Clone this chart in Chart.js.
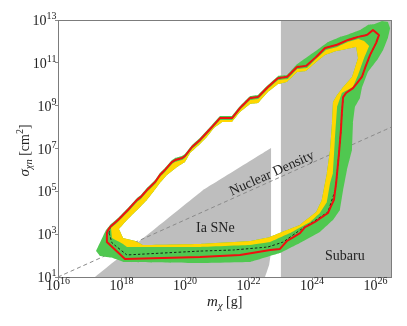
<!DOCTYPE html>
<html><head><meta charset="utf-8">
<script src="https://cdn.jsdelivr.net/npm/chart.js@4"></script>
<style>html,body{margin:0;padding:0;background:#fff}canvas{display:block}</style>
</head><body>
<canvas id="c" width="407" height="326"></canvas>
<script>
// ---- axis / ticks (log10 exponents) ----
const xTickExponents = [16, 18, 20, 22, 24, 26];
const yTickExponents = [1, 3, 5, 7, 9, 11, 13];
const xRangeLog = [16, 26.5];
const yRangeLog = [1, 13];

// ---- observed limit contour (red), log10 m [g], log10 sigma [cm^2] ----
const redLogM = [17.54,17.64,17.89,18.20,18.49,18.61,18.80,19.06,19.21,19.37,19.59,19.69,19.91,20.00,20.22,20.47,20.79,21.10,21.48,21.73,22.05,22.30,22.61,22.93,23.21,23.53,23.81,24.13,24.41,24.76,25.13,25.45,25.73,25.92,26.11,26.02,25.83,25.67,25.57,25.29,25.07,24.98,24.94,24.91,24.85,24.76,24.69,24.50,24.09,23.78,23.62,23.21,22.99,22.68,21.73,20.47,18.11,17.54,17.54];
const redLogS = [3.10,3.33,3.66,4.13,4.60,4.74,5.06,5.44,5.76,6.00,6.37,6.46,6.56,6.65,7.07,7.40,7.91,8.42,8.42,8.89,9.36,9.40,9.87,10.29,10.34,10.81,10.85,11.27,11.69,11.83,12.07,12.21,12.30,12.53,12.30,11.93,11.37,10.76,10.34,9.82,9.59,9.40,8.66,7.86,6.79,5.39,4.60,3.99,3.57,3.33,3.05,2.68,2.31,2.26,2.03,1.93,1.84,2.63,3.10];

// ---- expected limit (black dashed) ----
const expLogM = [17.61,17.70,18.17,20.47,21.51,22.61,23.09,23.62,24.03,24.50,24.73,24.76,24.85,24.91,24.94,24.98,25.07,25.29,25.57,25.67,25.83,26.02,26.11,25.92,25.73,25.45,25.13,24.76,24.41,24.13,23.81,23.53,23.21,22.93,22.61,22.30,22.05,21.73,21.48,21.10,20.79,20.47,20.22,20.00,19.91,19.69,19.59,19.37,19.21,19.06,18.80,18.61,18.49,18.20,17.89,17.64,17.61];
const expLogS = [3.05,2.59,2.03,2.21,2.26,2.40,2.63,3.19,3.57,4.03,5.06,5.39,6.79,7.86,8.66,9.40,9.59,9.82,10.34,10.76,11.37,11.93,12.30,12.53,12.30,12.21,12.07,11.83,11.69,11.27,10.85,10.81,10.34,10.29,9.87,9.40,9.36,8.89,8.42,8.42,7.91,7.40,7.07,6.65,6.56,6.46,6.37,6.00,5.76,5.44,5.06,4.74,4.60,4.13,3.66,3.33,3.05];

// ---- 2-sigma band (green) outer edge ----
const greenOuterLogM = [17.51,17.20,17.32,17.73,18.08,20.47,22.05,22.99,23.62,24.25,24.66,24.88,24.98,25.10,25.26,25.29,25.35,25.51,25.57,25.76,26.05,26.24,26.39,26.46,26.39,26.20,25.98,25.76,25.51,25.10,24.88,24.50,24.25,23.94,23.62,23.50,23.21,22.93,22.61,22.30,22.05,21.73,21.48,21.10,20.79,20.47,20.22,20.00,19.91,19.69,19.59,19.37,19.21,19.06,18.80,18.61,18.49,18.20,17.89,17.64];
const greenOuterLogS = [3.19,2.21,1.98,1.89,1.70,1.65,1.70,2.12,2.59,3.10,3.66,4.13,5.06,6.00,6.93,8.19,8.94,9.36,9.82,10.57,11.13,11.60,12.16,12.62,12.91,12.95,12.81,12.77,12.53,12.30,12.21,11.97,11.69,11.37,11.04,10.90,10.43,10.39,9.96,9.50,9.45,8.98,8.52,8.52,8.00,7.49,7.16,6.74,6.65,6.56,6.46,6.09,5.86,5.53,5.16,4.83,4.69,4.22,3.75,3.43];

// ---- 1-sigma band (yellow) outer edge ----
const yellowOuterLogM = [17.67,17.89,18.20,18.49,18.61,18.80,19.06,19.21,19.37,19.59,19.69,19.91,20.00,20.22,20.47,20.79,21.10,21.48,21.73,22.05,22.30,22.61,22.93,23.24,23.53,23.84,24.16,24.44,24.79,25.13,25.45,25.64,25.80,25.64,25.45,25.29,24.94,24.79,24.72,24.66,24.57,24.47,24.25,23.94,23.31,22.68,22.05,20.47,18.17,18.05,17.70];
const yellowOuterLogS = [3.29,3.57,4.03,4.50,4.64,4.97,5.34,5.67,5.90,6.28,6.37,6.46,6.56,6.98,7.30,7.82,8.33,8.33,8.80,9.26,9.31,9.78,10.20,10.25,10.71,10.76,11.23,11.60,11.74,11.97,12.11,12.02,11.79,11.23,10.43,9.87,9.59,8.94,7.40,5.86,5.39,4.50,3.99,3.57,3.05,2.63,2.49,2.40,2.40,2.54,2.82];

// ---- inner edge of the bands (towards the unconstrained interior) ----
const innerLogM = [17.92,18.17,18.49,18.80,19.02,19.21,19.43,19.75,20.00,20.16,20.47,20.69,20.91,21.17,21.48,21.73,22.05,22.30,22.61,22.93,23.21,23.53,23.81,24.13,24.41,24.76,25.10,25.39,25.45,25.35,25.26,24.98,24.79,24.66,24.63,24.57,24.47,24.31,24.13,23.62,23.21,22.68,22.05,20.47,18.68,18.43,18.05];
const innerLogS = [3.24,3.66,4.13,4.60,5.02,5.39,5.76,6.14,6.37,6.79,7.21,7.54,7.96,8.24,8.24,8.70,9.08,9.12,9.64,10.01,10.11,10.57,10.62,11.04,11.37,11.55,11.65,11.74,11.23,10.76,10.34,9.87,9.50,9.17,8.19,6.93,5.86,4.60,4.03,3.43,3.19,2.87,2.68,2.54,2.49,2.68,2.82];

// ---- excluded regions (grey) ----
const iaLogM = [17.17,20.57,22.71,22.71,22.65,22.52];
const iaLogS = [1.00,5.06,7.02,2.17,1.56,1.00];
const subaruLogM = [23.02,23.02,26.5,26.5];
const subaruLogS = [1,13,13,1];

// ---- nuclear density line ----
const nuclearLogM = [16, 26.5];
const nuclearLogS = [1, 8];

// ---- text labels (log10 positions) ----
const iaLabelAt = [20.35, 3.10];
const subaruLabelAt = [24.41, 1.79];
const nuclearLabelAt = [21.51, 4.67];

const pts = (lm, ls) => lm.map((v, i) => ({x: Math.pow(10, v), y: Math.pow(10, ls[i])}));
function signedArea(lm, ls) {
  let s = 0;
  for (let i = 0; i < lm.length; i++) {
    const j = (i + 1) % lm.length;
    s += lm[i] * ls[j] - lm[j] * ls[i];
  }
  return s;
}
function annulus(oM, oS, iM, iS) {
  const outer = pts(oM, oS);
  let inner = pts(iM, iS);
  // inner ring must run opposite to the outer ring so it becomes a hole
  if (Math.sign(signedArea(oM, oS)) === Math.sign(signedArea(iM, iS))) inner = inner.slice().reverse();
  return outer.concat([outer[0]], inner, [inner[0]], [outer[0]]);
}
const closed = (lm, ls) => { const p = pts(lm, ls); return p.concat([p[0]]); };

const FAM = '"Liberation Serif", "DejaVu Serif", serif';
function drawRich(ctx, parts, x, y, align) {
  let w = 0;
  parts.forEach(p => { ctx.font = (p.it ? 'italic ' : '') + p.s + 'px ' + FAM; p.w = ctx.measureText(p.t).width; w += p.w; });
  let cx = align === 'center' ? x - w / 2 : (align === 'right' ? x - w : x);
  ctx.textAlign = 'left'; ctx.textBaseline = 'alphabetic';
  parts.forEach(p => { ctx.font = (p.it ? 'italic ' : '') + p.s + 'px ' + FAM; ctx.fillText(p.t, cx, y + (p.dy || 0)); cx += p.w; });
}

const textPlugin = {
  id: 'texts',
  afterDraw(chart) {
    const ctx = chart.ctx, xs = chart.scales.x, ys = chart.scales.y, a = chart.chartArea;
    ctx.save();
    ctx.strokeStyle = '#7c7c7c'; ctx.lineWidth = 1;
    const l = Math.floor(a.left) + 0.5, t = Math.floor(a.top) + 0.5, r = Math.floor(a.right) + 0.5, b = Math.floor(a.bottom) + 0.5;
    ctx.strokeRect(l, t, r - l, b - t);
    ctx.fillStyle = '#222';
    xTickExponents.forEach(e => {
      const px = xs.getPixelForValue(Math.pow(10, e));
      drawRich(ctx, [{t: '10', s: 14}, {t: String(e), s: 10, dy: -6}], px, a.bottom + 13, 'center');
    });
    yTickExponents.forEach(e => {
      const py = ys.getPixelForValue(Math.pow(10, e));
      drawRich(ctx, [{t: '10', s: 14}, {t: String(e), s: 10, dy: -6}], a.left - 1.5, py + 5, 'right');
    });
    drawRich(ctx, [{t: 'm', s: 15, it: 1}, {t: 'χ', s: 10.5, it: 1, dy: 3}, {t: ' [g]', s: 14}], (a.left + a.right) / 2, 306, 'center');
    ctx.save();
    ctx.translate(29, (a.top + a.bottom) / 2 + 2);
    ctx.rotate(-Math.PI / 2);
    drawRich(ctx, [{t: 'σ', s: 15, it: 1}, {t: 'χn', s: 10.5, it: 1, dy: 3}, {t: ' [cm', s: 14}, {t: '2', s: 10, dy: -6}, {t: ']', s: 14}], 0, 0, 'center');
    ctx.restore();
    // annotations
    drawRich(ctx, [{t: 'Ia SNe', s: 14}], xs.getPixelForValue(Math.pow(10, iaLabelAt[0])), ys.getPixelForValue(Math.pow(10, iaLabelAt[1])), 'left');
    drawRich(ctx, [{t: 'Subaru', s: 14}], xs.getPixelForValue(Math.pow(10, subaruLabelAt[0])), ys.getPixelForValue(Math.pow(10, subaruLabelAt[1])), 'left');
    const x0 = xs.getPixelForValue(Math.pow(10, nuclearLogM[0])), y0 = ys.getPixelForValue(Math.pow(10, nuclearLogS[0]));
    const x1 = xs.getPixelForValue(Math.pow(10, nuclearLogM[1])), y1 = ys.getPixelForValue(Math.pow(10, nuclearLogS[1]));
    ctx.save();
    ctx.translate(xs.getPixelForValue(Math.pow(10, nuclearLabelAt[0])), ys.getPixelForValue(Math.pow(10, nuclearLabelAt[1])));
    ctx.rotate(Math.atan2(y1 - y0, x1 - x0));
    drawRich(ctx, [{t: 'Nuclear Density', s: 14}], 0, -3, 'left');
    ctx.restore();
    ctx.restore();
  }
};

const none = 'rgba(0,0,0,0)';
new Chart(document.getElementById('c').getContext('2d'), {
  type: 'line',
  data: { datasets: [
    {label: 'observed', data: pts(redLogM, redLogS), borderColor: '#f01010', borderWidth: 2, borderJoinStyle: 'round', fill: false, order: 0},
    {label: 'expected', data: pts(expLogM, expLogS), borderColor: '#111', borderWidth: 0.9, borderDash: [2.5, 2], fill: false, order: 1},
    {label: '1 sigma', data: annulus(yellowOuterLogM, yellowOuterLogS, innerLogM, innerLogS), backgroundColor: '#ffd700', borderColor: none, borderWidth: 0, fill: 'shape', order: 2},
    {label: '2 sigma', data: annulus(greenOuterLogM, greenOuterLogS, innerLogM, innerLogS), backgroundColor: '#50c850', borderColor: none, borderWidth: 0, fill: 'shape', order: 3},
    {label: 'Nuclear Density', data: pts(nuclearLogM, nuclearLogS), borderColor: '#8a8a8a', borderWidth: 1, borderDash: [4, 3], fill: false, order: 4},
    {label: 'Ia SNe', data: closed(iaLogM, iaLogS), backgroundColor: '#bebebe', borderColor: none, borderWidth: 0, fill: 'shape', order: 5},
    {label: 'Subaru', data: closed(subaruLogM, subaruLogS), backgroundColor: '#bebebe', borderColor: none, borderWidth: 0, fill: 'shape', order: 6}
  ]},
  options: {
    responsive: false, animation: false, devicePixelRatio: 1, events: [],
    layout: {padding: {left: 0, right: 15.6, top: 20, bottom: 0}},
    elements: {point: {radius: 0, hoverRadius: 0}, line: {tension: 0.000001}},
    plugins: {legend: {display: false}, tooltip: {enabled: false}},
    scales: {
      x: {type: 'logarithmic', min: Math.pow(10, xRangeLog[0]), max: Math.pow(10, xRangeLog[1]), bounds: 'data',
        afterBuildTicks(s) { s.ticks = xTickExponents.map(e => ({value: Math.pow(10, e)})); },
        afterFit(s) { s.height = 49; },
        ticks: {callback: () => '', autoSkip: false, maxRotation: 0, padding: 0},
        grid: {drawOnChartArea: false, drawTicks: true, tickLength: 3, color: '#888'},
        border: {display: false}},
      y: {type: 'logarithmic', min: Math.pow(10, yRangeLog[0]), max: Math.pow(10, yRangeLog[1]), bounds: 'data',
        afterBuildTicks(s) { s.ticks = yTickExponents.map(e => ({value: Math.pow(10, e)})); },
        afterFit(s) { s.width = 58; },
        ticks: {callback: () => '', autoSkip: false, padding: 0},
        grid: {drawOnChartArea: false, drawTicks: true, tickLength: 3, color: '#888'},
        border: {display: false}}
    }
  },
  plugins: [textPlugin]
});
</script>
</body></html>
